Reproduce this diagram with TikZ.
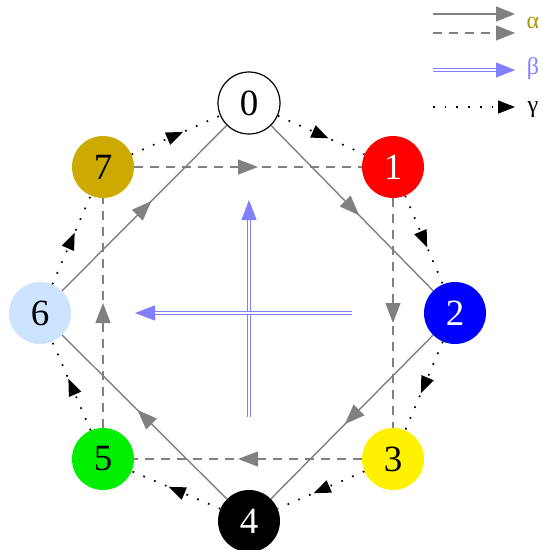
\documentclass[tikz,border=0pt]{standalone}
\usepackage{fontspec}
\setmainfont{Liberation Serif}
\usetikzlibrary{decorations.markings}
\usetikzlibrary{arrows.meta}
\definecolor{olivea}{RGB}{170,150,0}
\definecolor{bluea}{RGB}{128,128,255}
\definecolor{goldv}{RGB}{204,170,0}
\definecolor{paleb}{RGB}{204,228,255}
\definecolor{greenv}{RGB}{0,238,0}
\tikzset{vtx/.style={circle,minimum size=62pt,inner sep=0pt,font=\fontsize{37}{37}\selectfont},
         aedge/.style={draw=gray,line width=1.4pt},
         adash/.style={dash pattern=on 9pt off 7pt},
         gedge/.style={draw=black,line width=1.7pt,dash pattern=on 1.7pt off 10pt},
         bedge/.style={draw=bluea,line width=1.1pt,double=white,double distance=2.6pt},
         lab/.style={font=\fontsize{24}{24}\selectfont,inner sep=0pt}
         }

\begin{document}
\begin{tikzpicture}[x=1pt,y=-1pt,
  amid/.style={
    postaction=decorate,
    decoration={markings,
      mark=at position 0.5 with {\arrow[xshift=10pt,gray]{Triangle[length=20pt,width=15pt]}}}
  },
  gmid/.style={
    postaction=decorate,
    decoration={markings,
      mark=at position 0.5 with {\arrow[xshift=8pt,black]{Triangle[length=17pt,width=13pt]}}}
  }
        ]
        \useasboundingbox (0,0) rectangle (542,550);
        \node[vtx,draw=black,line width=1.2pt,fill=white] (N0) at (249,103) {0};
        \node[vtx,fill=red,text=white] (N1) at (393,167) {1};
        \node[vtx,fill=blue,text=white] (N2) at (455,313) {2};
        \node[vtx,fill=yellow] (N3) at (393,459) {3};
        \node[vtx,fill=black,text=white] (N4) at (249,521) {4};
        \node[vtx,fill=greenv] (N5) at (103,459) {5};
        \node[vtx,fill=paleb] (N6) at (40,313) {6};
        \node[vtx,fill=goldv] (N7) at (103,167) {7};

        \draw[aedge,amid] (N0) -- (N2);
        \draw[aedge,amid] (N2) -- (N4);
        \draw[aedge,amid] (N4) -- (N6);
        \draw[aedge,amid] (N6) -- (N0);
        \draw[aedge,adash,amid] (N7) -- (N1);
        \draw[aedge,adash,amid] (N1) -- (N3);
        \draw[aedge,adash,amid] (N3) -- (N5);
        \draw[aedge,adash,amid] (N5) -- (N7);

        \draw[gedge,gmid] (N0) -- (N1);
        \draw[gedge,gmid] (N1) -- (N2);
        \draw[gedge,gmid] (N2) -- (N3);
        \draw[gedge,gmid] (N3) -- (N4);
        \draw[gedge,gmid] (N4) -- (N5);
        \draw[gedge,gmid] (N5) -- (N6);
        \draw[gedge,gmid] (N6) -- (N7);
        \draw[gedge,gmid] (N7) -- (N0);

        \coordinate (B1) at (249,417);
        \coordinate (B2) at (249,200);
        \coordinate (B3) at (352,313);
        \coordinate (B4) at (135,313);
        \draw[bedge,-{Triangle[length=20pt,width=15pt]}] (B1) -- (B2);
        \draw[bedge,-{Triangle[length=20pt,width=15pt]}] (B3) -- (B4);

        \begin{scope}
        \coordinate (L1a) at (433,14);
        \coordinate (L1b) at (515,14);
        \coordinate (L2a) at (433,33);
        \coordinate (L2b) at (515,33);
        \coordinate (L3a) at (433,70);
        \coordinate (L3b) at (515,70);
        \coordinate (L4a) at (433,107);
        \coordinate (L4b) at (515,107);
        \draw[aedge,-{Triangle[length=19pt,width=15pt]}] (L1a) -- (L1b);
        \draw[aedge,adash,-{Triangle[length=19pt,width=15pt]}] (L2a) -- (L2b);
        \draw[bedge,-{Triangle[length=19pt,width=15pt]}] (L3a) -- (L3b);
        \draw[gedge,-{Triangle[length=17pt,width=13pt]}] (L4a) -- (L4b);
        \node[lab,text=olivea] (La) at (533,23) {α};
        \node[lab,text=bluea] (Lb) at (533,69) {β};
        \node[lab] (Lc) at (533,110) {γ};
        \end{scope}
        \end{tikzpicture}
\end{document}
